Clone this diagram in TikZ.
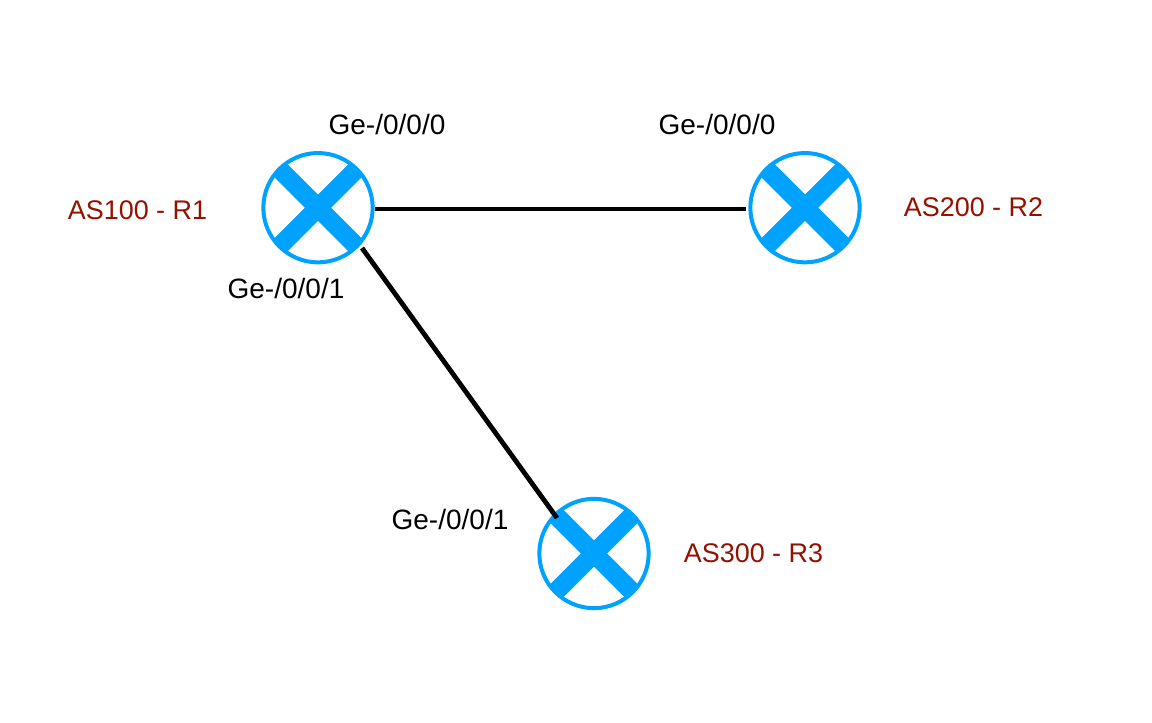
\documentclass[tikz,border=0pt]{standalone}
\usepackage{fontspec}
\setmainfont{Liberation Sans}
\definecolor{routerblue}{RGB}{0,162,255}
\definecolor{labelred}{RGB}{148,17,0}
\tikzset{
  x=0.75pt,y=-0.75pt,
  router/.style={circle,draw=routerblue,line width=3pt,fill=white,minimum size=82pt,inner sep=0pt},
  xbar/.style={draw=routerblue,line width=14pt,shorten >=-12pt,shorten <=-12pt},
  link/.style={draw=black,line width=3pt},
  linkdiag/.style={draw=black,line width=3.6pt},
  iface/.style={font=\fontsize{21pt}{23pt}\selectfont,text=black,inner sep=0pt},
  aslabel/.style={font=\fontsize{20.2pt}{23pt}\selectfont,text=labelred,inner sep=0pt}
}
\newcommand{\routerx}[1]{%
  \begin{scope}
  \clip (#1) circle (41pt);
  \draw[xbar] (#1.45) -- (#1.225);
  \draw[xbar] (#1.135) -- (#1.315);
  \end{scope}
}
\begin{document}
\begin{tikzpicture}
\useasboundingbox (0,0) rectangle (1152,722);
\fill[white] (0,0) rectangle (1152,722);
\node[router] (r1) at (318,207.7) {};
\node[router] (r2) at (805,207.7) {};
\node[router] (r3) at (594,553.5) {};
\routerx{r1}\routerx{r2}\routerx{r3}
\coordinate (r1e) at (375,209);
\coordinate (r2w) at (746,209);
\coordinate (r1s) at (362,248);
\coordinate (r3n) at (557,518);
\draw[link] (r1e) -- (r2w);
\draw[linkdiag] (r1s) -- (r3n);
\node[iface] (l1) at (387,124.2) {Ge-/0/0/0};
\node[iface] (l2) at (717,124.2) {Ge-/0/0/0};
\node[iface] (l3) at (286,288.2) {Ge-/0/0/1};
\node[iface] (l4) at (450,519.2) {Ge-/0/0/1};
\node[aslabel] (a1) at (137.5,210.3) {AS100 - R1};
\node[aslabel] (a2) at (973.5,207.5) {AS200 - R2};
\node[aslabel] (a3) at (753.5,553.5) {AS300 - R3};
\end{tikzpicture}
\end{document}
